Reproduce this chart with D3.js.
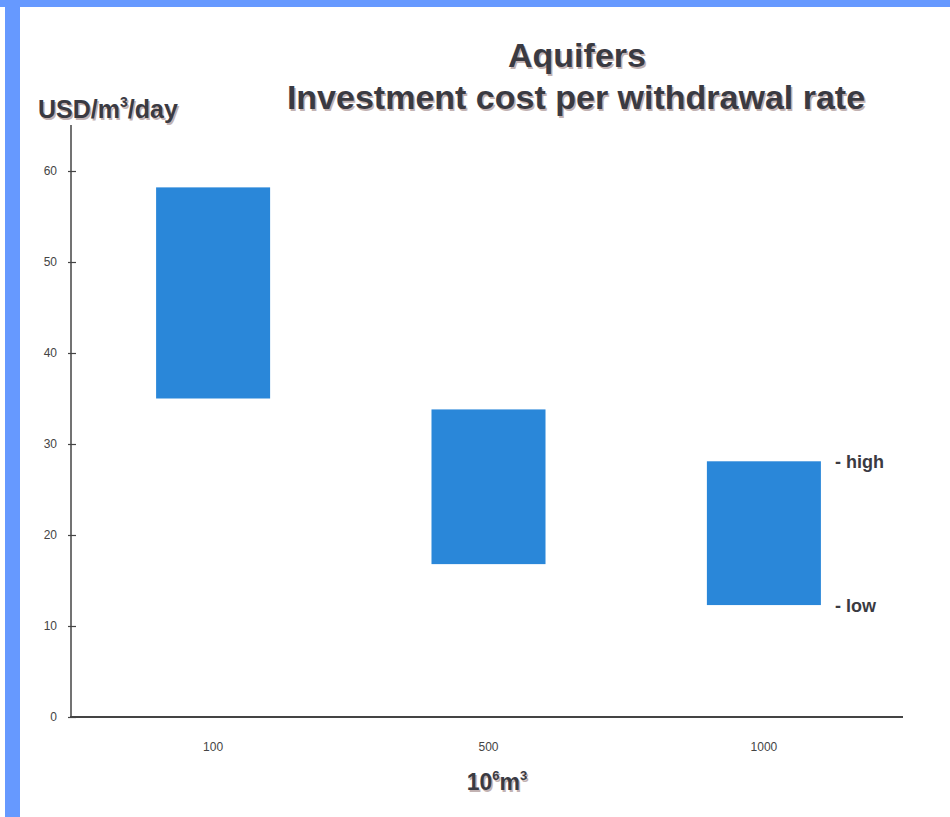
<!DOCTYPE html>
<html>
<head>
<meta charset="utf-8">
<script src="https://cdn.jsdelivr.net/npm/d3@7"></script>
<style>
  html, body { margin: 0; padding: 0; background: #fff; }
  svg { display: block; }
</style>
</head>
<body>
<svg id="chart" width="950" height="817"></svg>
<script>
// Aquifer volume categories (10^6 m^3)
const categories = ["100", "500", "1000"];
// Investment cost range per category (USD per m^3/day)
const highValues = [58.2, 33.8, 28.1];
const lowValues = [35.0, 16.8, 12.3];
// Y-axis tick values
const yTicks = [0, 10, 20, 30, 40, 50, 60];

const svg = d3.select("#chart");
const W = 950, H = 817;

// Slide frame: blue top rule and left rule
svg.append("rect").attr("x", 0).attr("y", 0).attr("width", W).attr("height", 7).attr("fill", "#6699ff");
svg.append("rect").attr("x", 5).attr("y", 0).attr("width", 15).attr("height", H).attr("fill", "#6699ff");

const x = d3.scaleBand()
  .domain(categories)
  .range([71, 906])
  .paddingInner(0.586)
  .paddingOuter(0.309);

const y = d3.scaleLinear().domain([0, 60]).range([717, 171]);

const textFill = "#3a3a42";
const shadowFill = "#9a7f7f";

// Bold text with a soft offset shadow
function shadowText(sel, xPos, yPos, txt, size, anchor) {
  const g = sel.append("g");
  [[1.5, 1.5, shadowFill, 0.6], [0, 0, textFill, 1]].forEach(([dx, dy, c, o]) => {
    g.append("text")
      .attr("x", xPos + dx).attr("y", yPos + dy)
      .attr("text-anchor", anchor)
      .attr("font-family", "Liberation Sans, Arial, sans-serif")
      .attr("font-weight", "bold")
      .attr("font-size", size)
      .attr("fill", c).attr("opacity", o)
      .html(txt);
  });
  return g;
}

// Titles
shadowText(svg, 577, 67, "Aquifers", 34, "middle");
shadowText(svg, 576, 109, "Investment cost per withdrawal rate", 34, "middle");

// Axis titles
shadowText(svg, 38, 118, 'USD/m<tspan dy="-11" font-size="14">3</tspan><tspan dy="11">/day</tspan>', 25, "start");
shadowText(svg, 497, 790, '10<tspan dy="-10" font-size="13">6</tspan><tspan dy="10">m</tspan><tspan dy="-10" font-size="13">3</tspan>', 23, "middle");

// Y axis
const yAxis = d3.axisLeft(y).tickValues(yTicks).tickSize(0).tickPadding(0).tickFormat(d3.format("d"));
const yg = svg.append("g").attr("transform", "translate(71,0)").call(yAxis);
yg.select(".domain").remove();
yg.selectAll(".tick text")
  .attr("x", -14)
  .attr("font-family", "Liberation Sans Narrow, Liberation Sans, Arial, sans-serif")
  .attr("font-size", 12)
  .attr("fill", "#444");
yg.selectAll(".tick").append("line")
  .attr("x1", -3).attr("x2", 5)
  .attr("stroke", "#444").attr("stroke-width", 1.2);
svg.append("line")
  .attr("x1", 71).attr("x2", 71)
  .attr("y1", 125).attr("y2", y(0))
  .attr("stroke", "#444").attr("stroke-width", 1.5);

// X axis
const xAxis = d3.axisBottom(x).tickSize(0).tickPadding(25);
const xg = svg.append("g").attr("transform", `translate(0,${y(0)})`).call(xAxis);
xg.select(".domain").remove();
xg.selectAll(".tick text")
  .attr("font-family", "Liberation Sans Narrow, Liberation Sans, Arial, sans-serif")
  .attr("font-size", 12)
  .attr("fill", "#444");
svg.append("line")
  .attr("x1", 70).attr("x2", 903)
  .attr("y1", y(0)).attr("y2", y(0))
  .attr("stroke", "#444").attr("stroke-width", 2);

// Range bars (low to high)
svg.append("g").selectAll("rect")
  .data(categories)
  .join("rect")
  .attr("x", d => x(d))
  .attr("width", x.bandwidth())
  .attr("y", (d, i) => y(highValues[i]))
  .attr("height", (d, i) => y(lowValues[i]) - y(highValues[i]))
  .attr("fill", "#2a87d9");

// High / low markers beside the last bar
const last = categories.length - 1;
const mx = x(categories[last]) + x.bandwidth() + 14;
[["- high", highValues[last]], ["- low", lowValues[last]]].forEach(([t, v]) => {
  svg.append("text")
    .attr("x", mx).attr("y", y(v) + 7)
    .attr("font-family", "Liberation Sans, Arial, sans-serif")
    .attr("font-weight", "bold")
    .attr("font-size", 18)
    .attr("fill", textFill)
    .text(t);
});
</script>
</body>
</html>
